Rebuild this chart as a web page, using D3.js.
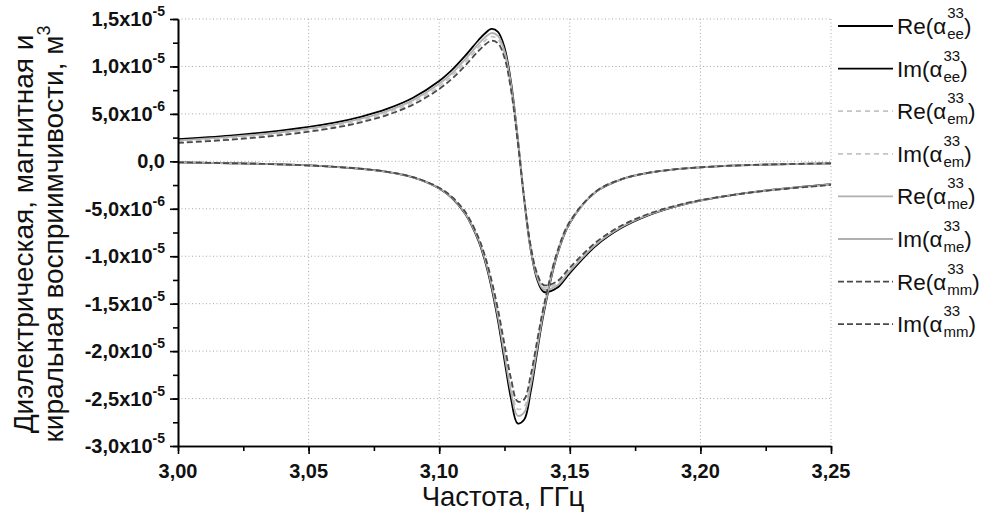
<!DOCTYPE html>
<html><head><meta charset="utf-8">
<script src="https://cdn.jsdelivr.net/npm/d3@7"></script>
<style>
html,body{margin:0;padding:0;background:#fff;}
svg{display:block;font-family:"Liberation Sans",Arial,sans-serif;}
</style></head>
<body>
<svg id="chart" width="983" height="522"></svg>
<script>
// Frequency, GHz
const freq = [3.00, 3.02, 3.04, 3.06, 3.07, 3.08, 3.09, 3.10, 3.105, 3.11, 3.115, 3.1175, 3.12, 3.1225, 3.125, 3.1275, 3.13, 3.1325, 3.135, 3.1375, 3.14, 3.145, 3.15, 3.16, 3.17, 3.18, 3.19, 3.20, 3.22, 3.25];
// susceptibilities, units of 1e-6 m^3
const reEE = [2.35, 2.72, 3.26, 4.08, 4.69, 5.52, 6.70, 8.46, 9.66, 11.13, 12.76, 13.47, 13.95, 13.65, 12.00, 8.34, 2.63, -3.89, -9.27, -12.44, -13.75, -13.36, -11.78, -8.90, -6.98, -5.70, -4.80, -4.14, -3.24, -2.40];
const imEE = [-0.10, -0.20, -0.33, -0.58, -0.79, -1.12, -1.70, -2.86, -3.90, -5.56, -8.37, -10.48, -13.27, -16.79, -20.99, -25.02, -27.61, -27.24, -24.33, -20.10, -16.05, -10.02, -6.51, -3.22, -1.88, -1.22, -0.85, -0.63, -0.38, -0.21];
const reEM = [2.08, 2.43, 2.95, 3.73, 4.31, 5.10, 6.23, 7.91, 9.06, 10.46, 12.02, 12.70, 13.15, 12.86, 11.29, 7.80, 2.35, -3.88, -9.01, -12.04, -13.29, -12.91, -11.41, -8.66, -6.82, -5.60, -4.74, -4.11, -3.25, -2.45];
const imEM = [-0.10, -0.20, -0.33, -0.58, -0.78, -1.11, -1.67, -2.81, -3.82, -5.42, -8.13, -10.14, -12.77, -16.02, -19.89, -23.64, -26.11, -25.85, -23.21, -19.32, -15.56, -9.81, -6.41, -3.19, -1.87, -1.21, -0.85, -0.63, -0.38, -0.21];
const reME = [2.21, 2.57, 3.09, 3.89, 4.49, 5.30, 6.45, 8.17, 9.33, 10.77, 12.36, 13.05, 13.52, 13.23, 11.62, 8.05, 2.48, -3.88, -9.13, -12.22, -13.50, -13.12, -11.58, -8.77, -6.90, -5.65, -4.77, -4.13, -3.25, -2.43];
const imME = [-0.10, -0.20, -0.33, -0.58, -0.79, -1.11, -1.69, -2.83, -3.86, -5.49, -8.24, -10.29, -13.00, -16.37, -20.40, -24.28, -26.80, -26.49, -23.72, -19.68, -15.79, -9.91, -6.45, -3.20, -1.87, -1.22, -0.85, -0.63, -0.38, -0.21];
const reMM = [1.94, 2.28, 2.78, 3.54, 4.11, 4.88, 5.98, 7.62, 8.73, 10.10, 11.62, 12.28, 12.72, 12.44, 10.91, 7.51, 2.20, -3.87, -8.87, -11.82, -13.04, -12.67, -11.21, -8.53, -6.74, -5.55, -4.71, -4.10, -3.26, -2.48];
const imMM = [-0.10, -0.20, -0.33, -0.58, -0.78, -1.10, -1.66, -2.78, -3.78, -5.35, -8.00, -9.95, -12.50, -15.60, -19.30, -22.90, -25.30, -25.10, -22.60, -18.90, -15.30, -9.70, -6.35, -3.17, -1.86, -1.21, -0.85, -0.63, -0.38, -0.21];

const seriesNames = ["Re", "Im", "Re", "Im", "Re", "Im", "Re", "Im"];
const seriesSubs = ["ee", "ee", "em", "em", "me", "me", "mm", "mm"];
const seriesSup = "33";

const xTicks = [3.00, 3.05, 3.10, 3.15, 3.20, 3.25];
const xTickLabels = ["3,00", "3,05", "3,10", "3,15", "3,20", "3,25"];
const yTicks = [15, 10, 5, 0, -5, -10, -15, -20, -25, -30];
const yTickMant = ["1,5", "1,0", "5,0", "0,0", "-5,0", "-1,0", "-1,5", "-2,0", "-2,5", "-3,0"];
const yTickExp = ["-5", "-5", "-6", "", "-6", "-5", "-5", "-5", "-5", "-5"];

const xTitle = "Частота, ГГц";
const yTitle1 = "Диэлектрическая, магнитная и";
const yTitle2 = "киральная восприимчивости, м";

const styles = [
  {color: "#000", dash: null},
  {color: "#000", dash: null},
  {color: "#c4c4c4", dash: "5,4"},
  {color: "#c4c4c4", dash: "5,4"},
  {color: "#b0b0b0", dash: null},
  {color: "#b0b0b0", dash: null},
  {color: "#4a4a4a", dash: "6,3"},
  {color: "#4a4a4a", dash: "6,3"}
];
const data = [reEE, imEE, reEM, imEM, reME, imME, reMM, imMM];

const svg = d3.select("#chart");
const x = d3.scaleLinear().domain([3.0, 3.25]).range([178, 831]);
const y = d3.scaleLinear().domain([-30, 15]).range([446, 19]);

// grid
const grid = svg.append("g");
grid.selectAll("line.gx").data(xTicks.slice(1)).join("line")
  .attr("x1", d => x(d)).attr("x2", d => x(d)).attr("y1", y(15)).attr("y2", y(-30))
  .attr("stroke", "#a8a8a8").attr("stroke-width", 1).attr("stroke-dasharray", "1,2.5");
grid.selectAll("line.gy").data(yTicks.filter(v => v > -30)).join("line")
  .attr("x1", x(3.0)).attr("x2", x(3.25)).attr("y1", d => y(d)).attr("y2", d => y(d))
  .attr("stroke", "#a8a8a8").attr("stroke-width", 1).attr("stroke-dasharray", "1,2.5");

// curves
const line = d3.line().x((d, i) => x(freq[i])).y(d => y(d)).curve(d3.curveCatmullRom.alpha(0.5));
const curves = svg.append("g");
data.forEach((s, k) => {
  curves.append("path").datum(s).attr("d", line).attr("fill", "none")
    .attr("stroke", styles[k].color).attr("stroke-width", 1.8)
    .attr("stroke-dasharray", styles[k].dash);
});

// axes
const minorX = d3.range(3.0, 3.2501, 0.025);
const minorY = d3.range(-30, 15.01, 2.5);
const gx = svg.append("g").attr("transform", `translate(0,${y(-30)})`);
gx.call(d3.axisBottom(x).tickValues(minorX).tickSize(5).tickSizeOuter(0).tickFormat(""));
gx.call(g => g.append("g").call(d3.axisBottom(x).tickValues(xTicks).tickSize(8).tickSizeOuter(0).tickFormat("")));
const gy = svg.append("g").attr("transform", `translate(${x(3.0)},0)`);
gy.call(d3.axisLeft(y).tickValues(minorY).tickSize(5).tickSizeOuter(0).tickFormat(""));
gy.call(g => g.append("g").call(d3.axisLeft(y).tickValues(yTicks).tickSize(8).tickSizeOuter(0).tickFormat("")));
svg.selectAll(".domain, .tick line").attr("stroke", "#000").attr("stroke-width", 1.6);

// x tick labels
svg.append("g").selectAll("text").data(xTicks).join("text")
  .attr("x", d => x(d)).attr("y", 478).attr("text-anchor", "middle")
  .attr("font-size", 20).attr("font-weight", "bold").attr("fill", "#111")
  .text((d, i) => xTickLabels[i]);

// y tick labels
const yl = svg.append("g").selectAll("text").data(yTicks).join("text")
  .attr("x", 165).attr("y", d => y(d) + 7).attr("text-anchor", "end")
  .attr("font-size", 20).attr("font-weight", "bold").attr("fill", "#111");
yl.each(function(d, i) {
  const t = d3.select(this);
  if (yTickExp[i]) {
    t.append("tspan").text(yTickMant[i] + "x10");
    t.append("tspan").attr("dy", -10).attr("font-size", 14).text(yTickExp[i]);
  } else {
    t.append("tspan").text(yTickMant[i]);
  }
});

// axis titles
svg.append("text").attr("x", 503).attr("y", 506).attr("text-anchor", "middle")
  .attr("font-size", 27.5).attr("fill", "#111").text(xTitle);
const yt = svg.append("g").attr("transform", "translate(0,234) rotate(-90)");
yt.append("text").attr("x", 0).attr("y", 33).attr("text-anchor", "middle")
  .attr("font-size", 28).attr("fill", "#111").text(yTitle1);
const yt2 = yt.append("text").attr("x", 0).attr("y", 63).attr("text-anchor", "middle")
  .attr("font-size", 28).attr("fill", "#111");
yt2.append("tspan").text(yTitle2);
yt2.append("tspan").attr("dy", -13).attr("font-size", 18).text("3");

// legend
const leg = svg.append("g");
seriesNames.forEach((nm, k) => {
  const cy = 26 + k * 42.6;
  leg.append("line").attr("x1", 838).attr("x2", 893).attr("y1", cy).attr("y2", cy)
    .attr("stroke", styles[k].color).attr("stroke-width", 1.8).attr("stroke-dasharray", styles[k].dash);
  const main = leg.append("text").attr("x", 897).attr("y", cy + 8).attr("font-size", 22.5).attr("fill", "#111")
    .text(nm + "(α");
  const w = main.node().getComputedTextLength();
  const sup = leg.append("text").attr("x", 897 + w + 1).attr("y", cy - 8).attr("font-size", 15).attr("fill", "#111").text(seriesSup);
  const sub = leg.append("text").attr("x", 897 + w + 1).attr("y", cy + 13).attr("font-size", 15).attr("fill", "#111").text(seriesSubs[k]);
  const w2 = Math.max(sup.node().getComputedTextLength(), sub.node().getComputedTextLength());
  leg.append("text").attr("x", 897 + w + w2 + 1).attr("y", cy + 8).attr("font-size", 22.5).attr("fill", "#111").text(")");
});
</script>
</body></html>
